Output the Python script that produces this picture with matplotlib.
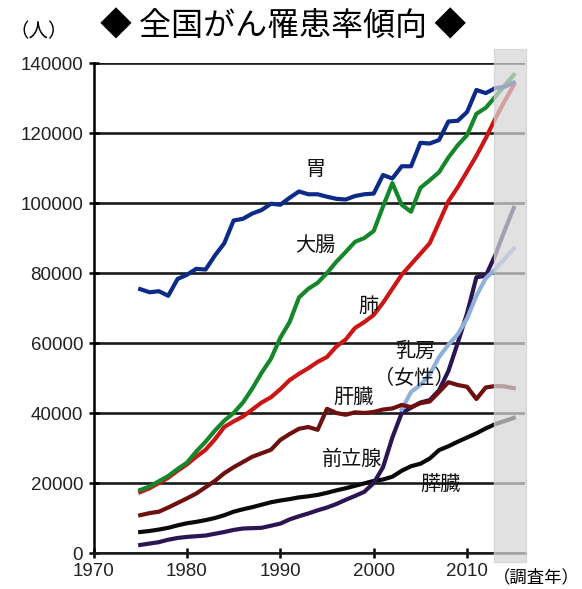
import numpy as np
import matplotlib
matplotlib.use('Agg')
import matplotlib.pyplot as plt

plt.rcParams['font.family'] = ['Noto Sans CJK JP', 'DejaVu Sans']

# DATA
years = list(range(1975, 2016))
years_breast = list(range(2003, 2016))

stomach = [75400, 74500, 74800, 73500, 78300, 79500, 81200, 81000, 85000, 88500,
           95000, 95500, 97000, 98000, 99800, 99500, 101500, 103300, 102500, 102500,
           101800, 101200, 101000, 102000, 102500, 102700, 108000, 107000, 110500, 110500,
           117200, 117000, 118000, 123300, 123500, 126000, 132300, 131400, 132800, 133200,
           134400]
colon = [18000, 19000, 20500, 22000, 24000, 25800, 29000, 31800, 35000, 37800,
         40000, 43000, 47000, 51500, 55500, 61500, 66000, 73000, 75500, 77200,
         80000, 83200, 86000, 88900, 90000, 92000, 99000, 105700, 99500, 97500,
         104300, 106500, 108800, 113000, 116500, 119400, 125500, 127200, 130300, 133500,
         136600]
lung = [17400, 18500, 20000, 21500, 23500, 25300, 27500, 29500, 32500, 36000,
        37600, 39000, 41000, 43000, 44500, 46800, 49400, 51200, 52800, 54600,
        56000, 59000, 61000, 64300, 66000, 68000, 71500, 75500, 79500, 82500,
        85500, 88500, 94500, 100500, 104500, 109000, 113500, 118500, 124000, 129000,
        133700]
liver = [10800, 11400, 11800, 13000, 14300, 15600, 17000, 18800, 20600, 22800,
         24500, 26000, 27500, 28500, 29500, 32300, 34000, 35500, 36000, 35200,
         41200, 40000, 39500, 40200, 40000, 40300, 41000, 41300, 42300, 41700,
         42800, 43300, 46000, 48800, 48000, 47500, 44000, 47300, 47700, 47600,
         47100]
pancreas = [6000, 6300, 6700, 7200, 7900, 8500, 8900, 9400, 10000, 10800,
            11800, 12500, 13100, 13800, 14500, 15000, 15400, 15900, 16200, 16600,
            17200, 17900, 18500, 19200, 19900, 20600, 21000, 21800, 23500, 24800,
            25500, 27000, 29400, 30500, 31800, 33000, 34200, 35600, 36800, 37700,
            38600]
prostate = [2300, 2700, 3100, 3800, 4300, 4600, 4800, 5000, 5500, 6000,
            6600, 7000, 7100, 7200, 7800, 8400, 9600, 10500, 11300, 12200,
            13000, 14000, 15200, 16300, 17500, 20000, 24500, 33000, 40000, 41500,
            43000, 43700, 46500, 52000, 60000, 68500, 78800, 79200, 85000, 92000,
            98600]
breast = [41000, 46000, 48000, 51000, 56000, 59500, 62500, 67000, 73500, 78500,
          81000, 84000, 87000]

fig = plt.figure(figsize=(5.82, 5.89), dpi=100)
ax = fig.add_axes([0.1607, 0.0611, 0.902 - 0.1607, 0.893 - 0.0611])

lw = 3.0
ax.plot(years, pancreas, color='#0a0a0a', lw=lw, zorder=3)
ax.plot(years, prostate, color='#2b1552', lw=lw, zorder=3)
ax.plot(years_breast, breast, color='#8fb0da', lw=lw, zorder=3)
ax.plot(years, liver, color='#6e1010', lw=lw, zorder=3)
ax.plot(years, lung, color='#cc1616', lw=lw, zorder=3)
ax.plot(years, colon, color='#15872a', lw=lw, zorder=3)
ax.plot(years, stomach, color='#0c2a88', lw=lw, zorder=3)

# shaded (estimate) band, drawn on top so lines fade
band = ax.axvspan(2012.9, 2016.3, ymin=-0.018, ymax=1.029, facecolor='#d6d6d6',
                  edgecolor='#cfcfcf', alpha=0.72, zorder=4)
band.set_clip_on(False)

ax.set_xlim(1970, 2016.2)
ax.set_ylim(0, 140000)
ax.set_xticks([1970, 1980, 1990, 2000, 2010])
ax.set_yticks(np.arange(0, 140001, 20000))
ax.yaxis.grid(True, color='#1a1a1a', lw=1.9)
ax.set_axisbelow(True)
for s in ['top', 'right']:
    ax.spines[s].set_visible(False)
ax.spines['left'].set_linewidth(1.8)
ax.spines['bottom'].set_linewidth(1.8)
ax.spines['bottom'].set_color('#1a1a1a')
ax.tick_params(axis='both', direction='inout', length=7, width=1.8, labelsize=13.5, pad=4)
for lab in ax.get_xticklabels() + ax.get_yticklabels():
    lab.set_family(['Liberation Sans', 'DejaVu Sans'])
    lab.set_color('#222222')

# series labels
lbl = dict(fontsize=14.5, ha='center', va='center', color='#111111', zorder=5)
ax.text(1993.8, 109500, '胃', **lbl)
ax.text(1993.7, 88000, '大腸', **lbl)
ax.text(1999.4, 70500, '肺', **lbl)
ax.text(2004.5, 57700, '乳房', **lbl)
ax.text(2004.3, 50000, '（女性）', **lbl)
ax.text(1997.8, 44500, '肝臓', **lbl)
ax.text(1997.7, 26800, '前立腺', **lbl)
ax.text(2007.1, 19700, '膵臓', **lbl)

fig.text(0.487, 0.955, '◆ 全国がん罹患率傾向 ◆', fontsize=23, ha='center', va='center')
fig.text(0.066, 0.947, '（人）', fontsize=14, ha='center', va='center')
fig.text(0.997, 0.019, '（調査年）', fontsize=12.5, ha='right', va='center')

fig.savefig('out.png', dpi=100)
